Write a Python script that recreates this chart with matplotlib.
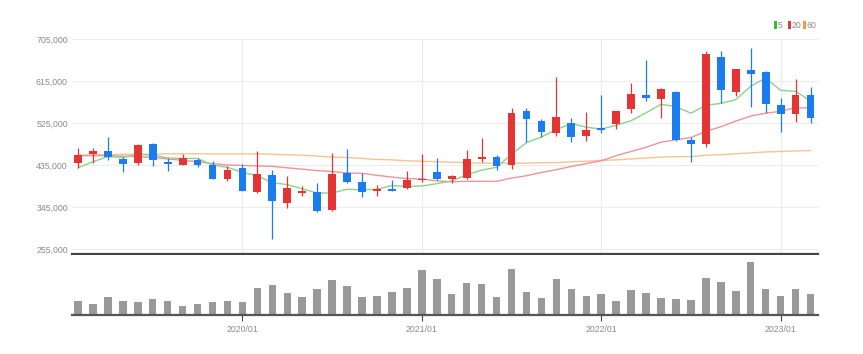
import matplotlib
matplotlib.use('Agg')
import matplotlib.pyplot as plt
from matplotlib import font_manager
from matplotlib.patches import Rectangle
import numpy as np
import pandas as pd

# ---------------- data (monthly, 2019/02 - 2023/03) ----------------
months = pd.period_range('2019-02', periods=50, freq='M').strftime('%Y/%m').tolist()

opens = [440000, 458000, 464000, 448000, 439000, 481000, 441000, 435000, 446000, 435000,
         406000, 429000, 377000, 413000, 353000, 376000, 378000, 338000, 417000, 398000,
         379000, 384000, 385000, 403000, 421000, 405000, 408000, 448000, 452000, 434000,
         551000, 529000, 503000, 526000, 497000, 514000, 522000, 555000, 585000, 577000,
         591000, 489000, 479000, 667000, 592000, 639000, 635000, 564000, 544000, 585000]
highs = [472000, 471000, 494000, 453000, 481000, 482000, 451000, 459000, 451000, 443000,
         433000, 437000, 465000, 424000, 412000, 389000, 396000, 460000, 469000, 417000,
         392000, 403000, 423000, 458000, 450000, 414000, 467000, 492000, 456000, 557000,
         557000, 533000, 624000, 535000, 549000, 585000, 551000, 610000, 661000, 599000,
         594000, 496000, 680000, 680000, 641000, 685000, 636000, 578000, 619000, 603000]
lows = [429000, 439000, 446000, 420000, 434000, 433000, 423000, 434000, 430000, 405000,
        401000, 379000, 374000, 276000, 343000, 369000, 335000, 337000, 397000, 366000,
        369000, 379000, 384000, 399000, 403000, 397000, 404000, 442000, 424000, 426000,
        485000, 496000, 497000, 485000, 487000, 504000, 512000, 546000, 573000, 535000,
        487000, 442000, 473000, 567000, 583000, 560000, 546000, 506000, 528000, 526000]
closes = [456000, 466000, 452000, 437000, 478000, 445000, 437000, 449000, 436000, 406000,
          424000, 380000, 416000, 358000, 386000, 380000, 337000, 415000, 399000, 378000,
          384000, 380000, 403000, 405000, 404000, 411000, 447000, 453000, 433000, 547000,
          534000, 506000, 537000, 494000, 511000, 510000, 550000, 587000, 578000, 598000,
          489000, 479000, 673000, 596000, 640000, 631000, 566000, 544000, 585000, 536000]
volume = [143, 110, 177, 143, 133, 160, 143, 93, 107, 133,
          143, 133, 270, 303, 223, 177, 257, 350, 290, 177,
          190, 233, 273, 450, 360, 210, 317, 307, 183, 460,
          233, 173, 360, 257, 193, 207, 143, 250, 217, 167,
          160, 150, 367, 333, 240, 527, 257, 190, 257, 210]

ma5 = [429000, 442000, 453000, 451000, 458000, 456000, 450000, 449000, 449000, 435000,
       430000, 419000, 412000, 397000, 393000, 384000, 375000, 375000, 383000, 382000,
       383000, 391000, 389000, 390000, 395000, 401000, 414000, 424000, 430000, 458000,
       483000, 495000, 511000, 524000, 516000, 512000, 520000, 530000, 547000, 565000,
       560000, 546000, 563000, 567000, 575000, 604000, 621000, 595000, 593000, 572000]
ma20 = [455000, 455000, 455000, 454000, 453000, 451000, 448000, 445000, 442000, 438000,
        435000, 434000, 433000, 432000, 429000, 426000, 423000, 421000, 418000, 417000,
        413000, 409000, 406000, 405000, 401000, 399000, 400000, 400000, 400000, 407000,
        412000, 419000, 425000, 432000, 438000, 444000, 455000, 464000, 473000, 484000,
        489000, 494000, 507000, 517000, 529000, 540000, 546000, 550000, 558000, 557000]
ma60 = [456000, 457000, 457000, 458000, 458000, 458000, 459000, 459000, 459000, 459000,
        459000, 459000, 459000, 458000, 457000, 456000, 454000, 452000, 451000, 449000,
        447000, 446000, 444000, 443000, 442000, 441000, 440000, 439000, 439000, 439000,
        439000, 440000, 440000, 442000, 443000, 445000, 446000, 448000, 450000, 452000,
        453000, 453000, 456000, 457000, 459000, 461000, 463000, 464000, 465000, 466000]

ytick_values = [255000, 345000, 435000, 525000, 615000, 705000]
xtick_labels = ['2020/01', '2021/01', '2022/01', '2023/01']
legend_labels = ['5', '20', '60']

# ---------------- style ----------------
RED = '#e53434'
BLUE = '#1a7cee'
C5 = '#88d488'
C20 = '#f2929b'
C60 = '#f7c393'
VOLC = '#999999'
TXT = '#8a8a8a'
GRID = '#ececec'

names = {f.name for f in font_manager.fontManager.ttflist}
if 'Liberation Sans Narrow' in names:
    FONT = 'Liberation Sans Narrow'
    FS = 7
else:
    FONT = 'Liberation Sans'
    FS = 6.3
plt.rcParams['font.family'] = [FONT, 'DejaVu Sans']

W, H = 863, 354
def fx(px):
    return px / W
def fy(py):
    return 1 - py / H

fig = plt.figure(figsize=(W / 100, H / 100), dpi=100)
ax = fig.add_axes([fx(72), fy(254), fx(818) - fx(72), fy(39) - fy(254)])
axv = fig.add_axes([fx(72), fy(315), fx(818) - fx(72), fy(255) - fy(315)])

n = len(months)
x = np.arange(n)
o = np.array(opens)
c = np.array(closes)
cols = [RED if cc >= oo else BLUE for oo, cc in zip(o, c)]

# moving averages
ax.plot(x, ma60, color=C60, lw=1.0, zorder=2)
ax.plot(x, ma20, color=C20, lw=1.0, zorder=2)
ax.plot(x, ma5, color=C5, lw=1.0, zorder=2)

# candles
ax.vlines(x, lows, highs, colors=cols, linewidth=0.9, zorder=3)
bottoms = np.minimum(o, c)
heights = np.maximum(np.abs(c - o), 2200)
ax.bar(x, heights, bottom=bottoms, width=0.52, color=cols, linewidth=0, zorder=4)

ax.set_xlim(-0.4, 49.5)
ax.set_ylim(244286, 705000)
ax.set_yticks(ytick_values)
ax.set_yticklabels([f'{v:,}' for v in ytick_values])
year_pos = [months.index(l) for l in xtick_labels]
ax.set_xticks(year_pos)
ax.set_xticklabels([])
ax.grid(True, color=GRID, lw=0.8, zorder=0)
ax.set_axisbelow(True)
ax.tick_params(axis='both', length=0, pad=3, labelsize=FS, labelcolor=TXT)
for s in ['top', 'left', 'right']:
    ax.spines[s].set_visible(False)
ax.spines['bottom'].set_color('#444444')
ax.spines['bottom'].set_linewidth(1.6)

# volume
axv.bar(x, volume, width=0.5, color=VOLC, linewidth=0, zorder=2)
axv.set_xlim(-0.4, 49.5)
axv.set_ylim(0, 600)
axv.set_yticks([])
axv.set_xticks(year_pos)
axv.set_xticklabels(xtick_labels)
axv.tick_params(axis='x', length=4, width=0.8, color='#444444', pad=3,
                labelsize=FS, labelcolor=TXT)
for s in ['top', 'left', 'right']:
    axv.spines[s].set_visible(False)
axv.spines['bottom'].set_color('#555555')
axv.spines['bottom'].set_linewidth(1.6)

# legend (top right)
leg_cols = ['#2fbf2f', '#e8363a', '#f39a3a']
leg_x = [774, 788, 803]
txt_x = [777.5, 791.5, 806.5]
for lx, tx, col, lab in zip(leg_x, txt_x, leg_cols, legend_labels):
    fig.add_artist(Rectangle((fx(lx), fy(29)), fx(3), fy(21) - fy(29),
                             transform=fig.transFigure, color=col, lw=0))
    fig.text(fx(tx), fy(25), lab, fontsize=FS, color=TXT, va='center', ha='left')

fig.savefig('out.png', dpi=100)
